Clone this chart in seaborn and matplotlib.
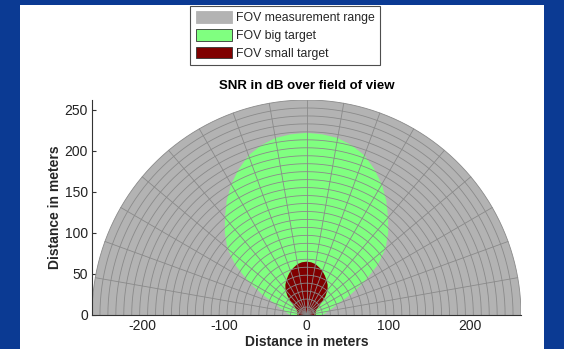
import numpy as np
import pandas as pd
import matplotlib
matplotlib.use("Agg")
import matplotlib.pyplot as plt
from matplotlib.patches import Patch, Rectangle
import seaborn as sns

# Field of view data (angle measured from boresight, degrees; range in meters)
MAX_RANGE = 262
N_RINGS = 27
SPOKE_STEP_DEG = 10

big_angle = [0, 5, 10, 15, 20, 25, 30, 35, 40, 45, 50, 55, 60, 65, 70, 75, 80, 85, 90]
big_range = [222, 221, 219, 214, 207, 196, 184, 170, 155, 141, 126, 106, 82, 60, 42, 33, 27, 23, 20]

small_angle = [0, 5, 10, 15, 20, 25, 30, 35, 40, 45, 50, 55, 60, 65, 70, 75, 80, 85, 90]
small_range = [65, 64.5, 63, 60, 57, 53, 49, 45, 40, 33, 25, 18, 14.5, 13, 12, 11.5, 11, 11, 11]

x_ticks = [-200, -100, 0, 100, 200]
y_ticks = [0, 50, 100, 150, 200, 250]

legend_labels = ["FOV measurement range", "FOV big target", "FOV small target"]
colors = ["#b3b3b3", "#80ff80", "#800000"]


def lobe_xy(angle, rng):
    # mirror the half pattern to both sides of boresight
    a = np.deg2rad(np.concatenate([-np.array(angle[::-1]), np.array(angle[1:])]))
    r = np.concatenate([np.array(rng[::-1]), np.array(rng[1:])])
    return r * np.sin(a), r * np.cos(a)


sns.set_theme(style="ticks")
plt.rcParams["font.family"] = ["Liberation Sans", "DejaVu Sans"]
plt.rcParams["axes.unicode_minus"] = False

fig = plt.figure(figsize=(5.64, 3.49), dpi=100, facecolor="#0b3a93")
fig.patches.append(Rectangle((20 / 564, 0), 524 / 564, 344 / 349,
                             transform=fig.transFigure, facecolor="white",
                             edgecolor="none", zorder=-5))
ax = fig.add_axes([92 / 564, 1 - 315 / 349, 429 / 564, 215 / 349])
ax.set_zorder(2)
ax.set_facecolor("none")

# measurement range half disc
t = np.linspace(0, np.pi, 361)
ax.fill(MAX_RANGE * np.cos(t), MAX_RANGE * np.sin(t), color=colors[0], lw=0, zorder=1)
bx, by = lobe_xy(big_angle, big_range)
ax.fill(bx, by, color=colors[1], lw=0, zorder=1)
sx, sy = lobe_xy(small_angle, small_range)
ax.fill(sx, sy, color=colors[2], lw=0, zorder=1)

# polar grid overlay
rows = []
for i in range(1, N_RINGS + 1):
    r = MAX_RANGE * i / N_RINGS
    for tt in t:
        rows.append(("ring%d" % i, r * np.cos(tt), r * np.sin(tt)))
for k, deg in enumerate(range(0, 181, SPOKE_STEP_DEG)):
    a = np.deg2rad(deg)
    rows.append(("spoke%d" % k, 0.0, 0.0))
    rows.append(("spoke%d" % k, MAX_RANGE * np.cos(a), MAX_RANGE * np.sin(a)))
grid = pd.DataFrame(rows, columns=["line", "x", "y"])
sns.lineplot(data=grid, x="x", y="y", units="line", estimator=None, sort=False,
             color="#8a8a8a", lw=0.6, ax=ax, legend=False, zorder=2)

ax.set_xlim(-MAX_RANGE, MAX_RANGE)
ax.set_ylim(0, MAX_RANGE)
ax.set_xticks(x_ticks)
ax.set_yticks(y_ticks)
ax.tick_params(direction="in", length=3, width=0.8, colors="#333333",
               labelsize=10, labelcolor="#222222", pad=3)
for s in ["top", "right"]:
    ax.spines[s].set_visible(False)
for s in ["left", "bottom"]:
    ax.spines[s].set_color("#333333")
    ax.spines[s].set_linewidth(0.8)

ax.set_xlabel("Distance in meters", fontsize=10, fontweight="bold", labelpad=1)
ax.set_ylabel("Distance in meters", fontsize=10, fontweight="bold", labelpad=2)
ax.set_title("SNR in dB over field of view", fontsize=9.5, fontweight="bold", pad=8,
             color="black")

handles = [Patch(facecolor=colors[0], edgecolor=colors[0], lw=0.6),
           Patch(facecolor=colors[1], edgecolor="#333333", lw=0.6),
           Patch(facecolor=colors[2], edgecolor="#333333", lw=0.6)]
leg = fig.legend(handles, legend_labels, loc="upper left",
                 bbox_to_anchor=(190 / 564, 1 - 6 / 349), fontsize=8.8,
                 frameon=True, fancybox=False, edgecolor="#222222",
                 handlelength=3.0, handleheight=1.05, handletextpad=0.3,
                 labelspacing=0.4, borderpad=0.45, borderaxespad=0)
leg.get_frame().set_linewidth(0.8)

fig.savefig("out.png", dpi=100, facecolor=fig.get_facecolor())
